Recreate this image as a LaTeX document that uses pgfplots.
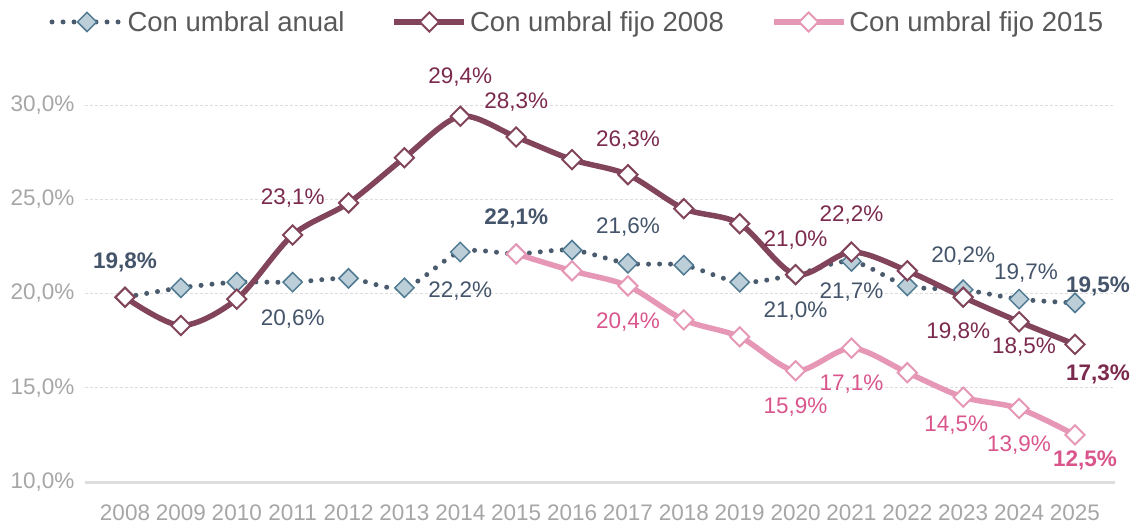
\documentclass[border=0pt]{standalone}
\usepackage{fontspec}
\setmainfont{Liberation Sans}
\usepackage{pgfplots}
\pgfplotsset{compat=1.18}
\definecolor{maroonL}{HTML}{82445A}
\definecolor{maroonT}{HTML}{7B2A4E}
\definecolor{pinkL}{HTML}{E597B5}
\definecolor{pinkT}{HTML}{D9558C}
\definecolor{blueD}{HTML}{4A5B6E}
\definecolor{blueF}{HTML}{BCCFD9}
\definecolor{blueE}{HTML}{4F7A92}
\definecolor{blueT}{HTML}{44546A}
\definecolor{tickG}{HTML}{A6A6A6}
\definecolor{gridG}{HTML}{DDDDDD}
\definecolor{legG}{HTML}{595959}
\newcommand{\lab}[5]{\node[text=#1,font=\fontsize{22.5}{25}\selectfont,inner sep=0pt,anchor=center] at ([xshift=#3pt,yshift=#4pt]axis cs:#2) {#5};}
\begin{document}
\begin{tikzpicture}
\useasboundingbox (-85pt,-43pt) rectangle (1050pt,482pt);
\begin{axis}[
  scale only axis, width=1030pt, height=395.9pt,
  xmin=2007.284, xmax=2025.716, ymin=10, ymax=31,
  xtick={2008,2009,2010,2011,2012,2013,2014,2015,2016,2017,2018,2019,2020,2021,2022,2023,2024,2025},
  xticklabels={2008,2009,2010,2011,2012,2013,2014,2015,2016,2017,2018,2019,2020,2021,2022,2023,2024,2025},
  ytick={10,15,20,25,30},
  yticklabels={{10,0\%},{15,0\%},{20,0\%},{25,0\%},{30,0\%}},
  axis x line*=bottom, axis y line*=left,
  x axis line style={draw=gridG, line width=3pt, -},
  y axis line style={draw=none},
  major tick length=0pt,
  ymajorgrids, grid style={gridG, line width=0.8pt, dash pattern=on 3pt off 2pt},
  tick label style={font=\fontsize{22.5}{25}\selectfont, text=tickG},
  yticklabel style={xshift=-7pt},
  xticklabel style={yshift=-19pt},
  clip=false,
  legend style={at={(0.478,1.162)}, anchor=center, draw=none, fill=none,
    font=\fontsize{27.5}{31}\selectfont, text=legG,
    /tikz/every odd column/.append style={column sep=1pt},
    /tikz/every even column/.append style={column sep=45pt}},
  legend columns=3,
  legend cell align=left,
  legend image code/.code={\draw[#1,mark repeat=2,mark phase=2] plot coordinates {(0pt,0pt) (35pt,0pt) (70pt,0pt)};},
]
\addplot[blueD, line width=5pt, line cap=round, dash pattern=on 0pt off 11pt, smooth,
  mark=square*, mark size=6.8pt, mark options={rotate=45, solid, fill=blueF, draw=blueE, line width=1.5pt}]
coordinates {(2008,19.8)(2009,20.3)(2010,20.6)(2011,20.6)(2012,20.8)(2013,20.3)(2014,22.2)(2015,22.1)(2016,22.3)(2017,21.6)(2018,21.5)(2019,20.6)(2020,21.0)(2021,21.7)(2022,20.4)(2023,20.2)(2024,19.7)(2025,19.5)};
\addlegendentry{Con umbral anual}
\addplot[maroonL, line width=5.5pt, smooth,
  mark=square*, mark size=6.8pt, mark options={rotate=45, fill=white, draw=maroonL, line width=2pt}]
coordinates {(2008,19.8)(2009,18.3)(2010,19.7)(2011,23.1)(2012,24.8)(2013,27.2)(2014,29.4)(2015,28.3)(2016,27.1)(2017,26.3)(2018,24.5)(2019,23.7)(2020,21.0)(2021,22.2)(2022,21.2)(2023,19.8)(2024,18.5)(2025,17.3)};
\addlegendentry{Con umbral fijo 2008}
\addplot[pinkL, line width=5.5pt, smooth,
  mark=square*, mark size=6.8pt, mark options={rotate=45, fill=white, draw=pinkL, line width=2pt}]
coordinates {(2015,22.1)(2016,21.2)(2017,20.4)(2018,18.6)(2019,17.7)(2020,15.9)(2021,17.1)(2022,15.8)(2023,14.5)(2024,13.9)(2025,12.5)};
\addlegendentry{Con umbral fijo 2015}
% blue labels
\lab{blueT}{2008,19.8}{0}{35}{\bfseries 19,8\%}
\lab{blueT}{2011,20.6}{0}{-37}{20,6\%}
\lab{blueT}{2014,22.2}{0}{-39}{22,2\%}
\lab{blueT}{2015,22.1}{0}{35}{\bfseries 22,1\%}
\lab{blueT}{2017,21.6}{0}{36}{21,6\%}
\lab{blueT}{2020,21.0}{0}{-36}{21,0\%}
\lab{blueT}{2021,21.7}{0}{-31}{21,7\%}
\lab{blueT}{2023,20.2}{0}{34}{20,2\%}
\lab{blueT}{2024,19.7}{7}{26}{19,7\%}
\lab{blueT}{2025,19.5}{23}{17}{\bfseries 19,5\%}
% maroon labels
\lab{maroonT}{2011,23.1}{0}{37}{23,1\%}
\lab{maroonT}{2014,29.4}{0}{39}{29,4\%}
\lab{maroonT}{2015,28.3}{0}{35}{28,3\%}
\lab{maroonT}{2017,26.3}{0}{35}{26,3\%}
\lab{maroonT}{2020,21.0}{0}{35}{21,0\%}
\lab{maroonT}{2021,22.2}{0}{37}{22,2\%}
\lab{maroonT}{2023,19.8}{-5}{-35}{19,8\%}
\lab{maroonT}{2024,18.5}{5}{-25}{18,5\%}
\lab{maroonT}{2025,17.3}{23}{-30}{\bfseries 17,3\%}
% pink labels
\lab{pinkT}{2017,20.4}{0}{-36}{20,4\%}
\lab{pinkT}{2020,15.9}{0}{-36}{15,9\%}
\lab{pinkT}{2021,17.1}{0}{-36}{17,1\%}
\lab{pinkT}{2023,14.5}{-7}{-28}{14,5\%}
\lab{pinkT}{2024,13.9}{0}{-37}{13,9\%}
\lab{pinkT}{2025,12.5}{10}{-26}{\bfseries 12,5\%}
\end{axis}
\end{tikzpicture}
\end{document}
